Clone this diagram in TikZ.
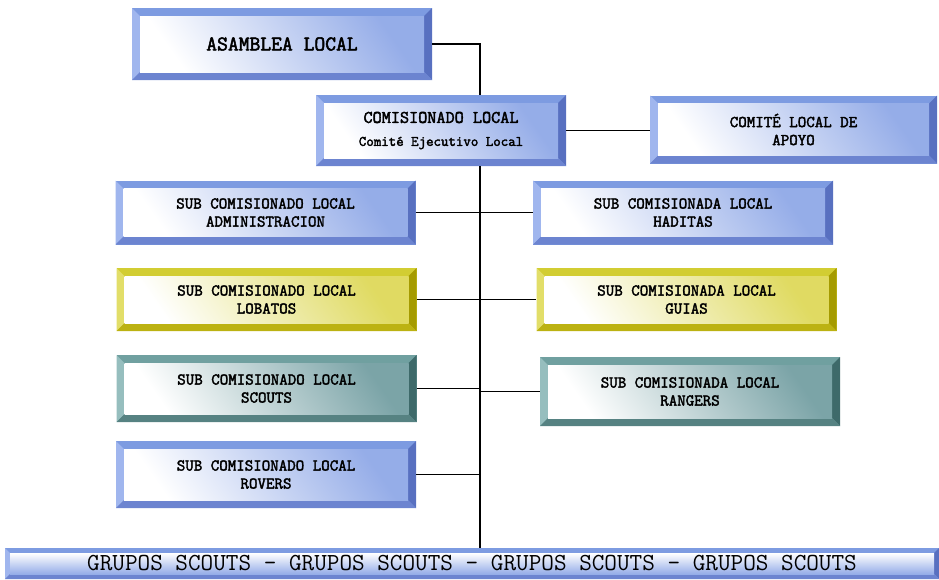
\documentclass[tikz,border=0pt]{standalone}
\usepackage{fontspec}
\newfontfamily\boxfont{Latin Modern Mono}[AutoFakeBold=2.4]
\usepackage{tikz}

\definecolor{bluetop}{RGB}{125,155,225}
\definecolor{blueleft}{RGB}{160,182,238}
\definecolor{blueright}{RGB}{88,112,192}
\definecolor{bluebot}{RGB}{108,132,208}
\definecolor{bluein}{RGB}{130,158,228}
\definecolor{yelltop}{RGB}{210,205,50}
\definecolor{yellleft}{RGB}{226,222,105}
\definecolor{yellright}{RGB}{165,155,0}
\definecolor{yellbot}{RGB}{188,178,18}
\definecolor{yellin}{RGB}{218,212,70}
\definecolor{tealtop}{RGB}{112,160,160}
\definecolor{tealleft}{RGB}{150,190,190}
\definecolor{tealright}{RGB}{62,106,106}
\definecolor{tealbot}{RGB}{86,130,130}
\definecolor{tealin}{RGB}{100,148,152}

\newcommand{\bevw}{8pt}
\newcommand{\bevang}{-55}

\tikzset{
  bevel/.style={rectangle, inner sep=0pt, align=center, fill=#1top,
    path picture={
      \fill[#1left] (path picture bounding box.north west) -- (path picture bounding box.south west)
        -- ([xshift=\bevw,yshift=\bevw]path picture bounding box.south west)
        -- ([xshift=\bevw,yshift=-\bevw]path picture bounding box.north west) -- cycle;
      \fill[#1right] (path picture bounding box.north east) -- (path picture bounding box.south east)
        -- ([xshift=-\bevw,yshift=\bevw]path picture bounding box.south east)
        -- ([xshift=-\bevw,yshift=-\bevw]path picture bounding box.north east) -- cycle;
      \fill[#1bot] (path picture bounding box.south west) -- (path picture bounding box.south east)
        -- ([xshift=-\bevw,yshift=\bevw]path picture bounding box.south east)
        -- ([xshift=\bevw,yshift=\bevw]path picture bounding box.south west) -- cycle;
      \shade[top color=#1in!85, middle color=white, bottom color=white, shading angle=\bevang]
        ([xshift=\bevw,yshift=-\bevw]path picture bounding box.north west)
        rectangle ([xshift=-\bevw,yshift=\bevw]path picture bounding box.south east);
    }},
  thinbevel/.code={\renewcommand{\bevw}{5pt}\renewcommand{\bevang}{180}}
}

\begin{document}
\begin{tikzpicture}[x=1pt,y=-1pt]

\tikzstyle{bluebox}=[bevel=blue, minimum width=300pt, minimum height=64pt, font=\boxfont\bfseries\fontsize{16.5}{18}\selectfont]
\tikzstyle{yellbox}=[bevel=yell, minimum width=300pt, minimum height=63pt, font=\boxfont\bfseries\fontsize{16.5}{18}\selectfont]
\tikzstyle{tealbox}=[bevel=teal, minimum width=300pt, minimum height=67pt, font=\boxfont\bfseries\fontsize{16.5}{18}\selectfont]
\tikzstyle{link}=[draw=black, line width=1.3pt]

\useasboundingbox (0,0) rectangle (939,579);

\node[bluebox, minimum height=72pt, font=\boxfont\bfseries\fontsize{21}{22}\selectfont] (asamblea) at (282,44) {ASAMBLEA LOCAL};
\node[bluebox, minimum width=250pt, minimum height=71pt, font=\boxfont\bfseries\fontsize{17.7}{23}\selectfont] (comisionado) at (441,130.5)
  {COMISIONADO LOCAL\\{\fontsize{14.5}{23}\selectfont Comité Ejecutivo Local}};
\node[bluebox, minimum width=287pt, minimum height=68pt] (apoyo) at (793.5,129.5) {COMITÉ LOCAL DE\\APOYO};

\node[bluebox] (admin) at (265.5,212.5) {SUB COMISIONADO LOCAL\\ADMINISTRACION};
\node[bluebox] (haditas) at (683,212.5) {SUB COMISIONADA LOCAL\\HADITAS};
\node[yellbox] (lobatos) at (266.5,299.5) {SUB COMISIONADO LOCAL\\LOBATOS};
\node[yellbox] (guias) at (686.5,299.5) {SUB COMISIONADA LOCAL\\GUIAS};
\node[tealbox] (scouts) at (266.5,388.5) {SUB COMISIONADO LOCAL\\SCOUTS};
\node[tealbox, minimum height=69pt] (rangers) at (690,391.5) {SUB COMISIONADA LOCAL\\RANGERS};
\node[bluebox, minimum height=67pt] (rovers) at (266,474.5) {SUB COMISIONADO LOCAL\\ROVERS};

\node[bluebox, thinbevel, minimum width=934pt, minimum height=31pt, font=\boxfont\fontsize{24.5}{26}\selectfont] (grupos) at (472,563.5)
  {GRUPOS SCOUTS - GRUPOS SCOUTS - GRUPOS SCOUTS - GRUPOS SCOUTS};

\coordinate (trunk) at (480,0);

\draw[link] (asamblea.east) -| (comisionado.north -| trunk);
\draw[link] (comisionado.east) -- (comisionado.east -| apoyo.west);
\draw[link] (comisionado.south -| trunk) -- (grupos.north -| trunk);
\draw[link] (admin.east) -- (haditas.west);
\draw[link] (lobatos.east) -- (guias.west);
\draw[link] (scouts.east) -- (scouts.east -| trunk);
\draw[link] (rangers.west) -- (rangers.west -| trunk);
\draw[link] (rovers.east) -- (rovers.east -| trunk);
\end{tikzpicture}
\end{document}
